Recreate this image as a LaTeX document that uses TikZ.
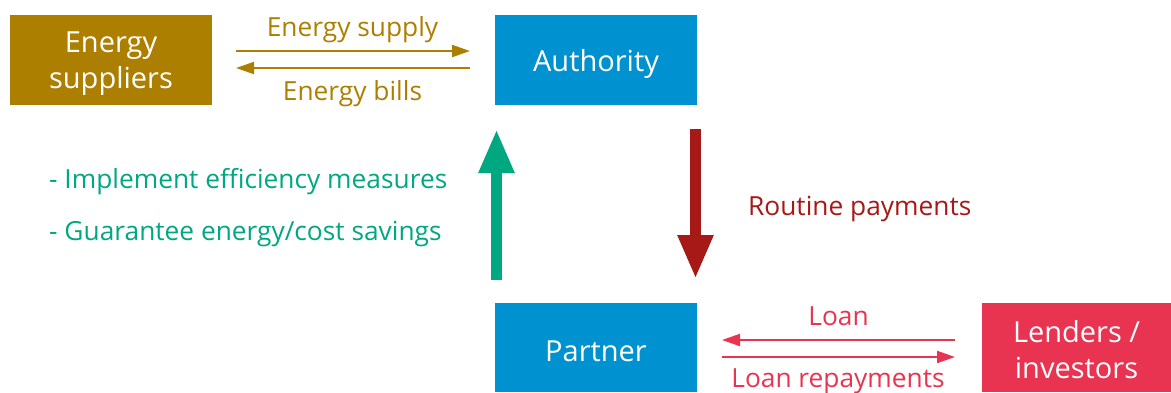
\documentclass[tikz,border=0pt]{standalone}
\usepackage{fontspec}
\setmainfont{Open Sans}
\usetikzlibrary{arrows.meta}
\definecolor{gold}{RGB}{173,127,0}
\definecolor{blu}{RGB}{0,146,208}
\definecolor{rd}{RGB}{232,52,80}
\definecolor{drd}{RGB}{166,25,22}
\definecolor{grn}{RGB}{0,168,130}
\newcommand\boxline[2]{\raisebox{#1}[0pt][0pt]{#2}}
\newcommand\boxlines[2]{\raisebox{#1}[0pt][0pt]{\begin{tabular}[b]{@{}c@{}}#2\end{tabular}}}
\tikzset{
  box/.style={minimum width=202pt, minimum height=90pt, inner sep=0pt, text=white, font=\fontsize{29}{35.5}\selectfont},
  lbl/.style={font=\fontsize{26.3}{30}\selectfont, inner sep=0pt, anchor=base},
  thin arrow/.style={line width=2pt, -{Triangle[width=12pt,length=18pt]}},
  fat arrow/.style={line width=11pt, -{Triangle[width=33pt,length=44pt]}}
}
\begin{document}
\begin{tikzpicture}[x=1pt,y=-1pt]
\useasboundingbox (0,0) rectangle (1171,392);
\node[box, fill=gold] (sup) at (111,60) {\boxlines{-28pt}{Energy\\suppliers}};
\node[box, fill=blu] (auth) at (596,60) {\boxline{-11.7pt}{Authority}};
\node[box, fill=blu, minimum height=89pt] (part) at (596,347.5) {\boxline{-13.6pt}{Partner}};
\node[box, fill=rd, minimum width=190pt, minimum height=89pt] (lend) at (1076.5,347.5) {\boxlines{-30.8pt}{Lenders /\\investors}};

\coordinate (a1) at (236,51); \coordinate (a2) at (470,51);
\coordinate (b1) at (470,68); \coordinate (b2) at (236,68);
\draw[thin arrow, gold] (a1) -- (a2);
\draw[thin arrow, gold] (b1) -- (b2);
\node[lbl, text=gold] (es) at (352.5,36.7) {Energy supply};
\node[lbl, text=gold] (eb) at (352.5,100) {Energy bills};

\coordinate (g1) at (496.5,280); \coordinate (g2) at (496.5,129);
\draw[fat arrow, grn] (g1) -- (g2);
\coordinate (r1) at (695.5,129); \coordinate (r2) at (695.5,279);
\draw[fat arrow, drd] (r1) -- (r2);
\node[lbl, text=drd, anchor=base west] (rp) at (748,215) {Routine payments};

\node[lbl, text=grn, anchor=base west] (t1) at (49,188.3) {- Implement efficiency measures};
\node[lbl, text=grn, anchor=base west] (t2) at (49,240.7) {- Guarantee energy/cost savings};

\coordinate (l1) at (955,340); \coordinate (l2) at (722,340);
\coordinate (m1) at (722,357); \coordinate (m2) at (955,357);
\draw[thin arrow, rd] (l1) -- (l2);
\draw[thin arrow, rd] (m1) -- (m2);
\node[lbl, text=rd] (ln) at (838.5,325) {Loan};
\node[lbl, text=rd] (lr) at (838,387.3) {Loan repayments};
\end{tikzpicture}
\end{document}
